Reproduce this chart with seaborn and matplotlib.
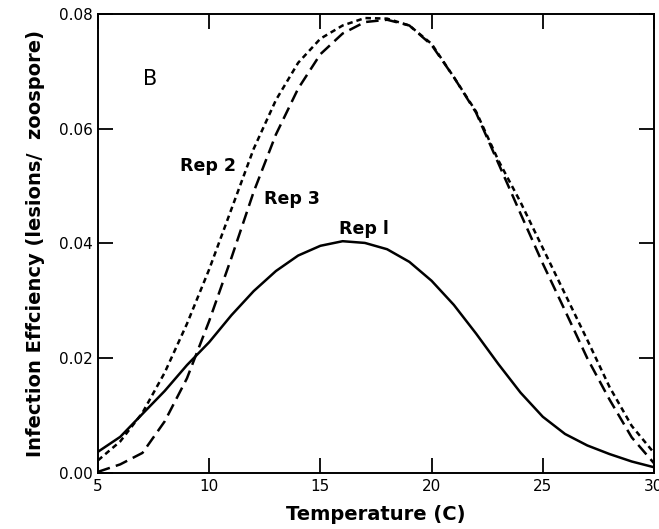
import numpy as np
import pandas as pd
import seaborn as sns
import matplotlib
matplotlib.use("Agg")
import matplotlib.pyplot as plt

# =========================
# Data
# =========================
temp = [5, 6, 7, 8, 9, 10, 11, 12, 13, 14, 15, 16, 17,
        18, 19, 20, 21, 22, 23, 24, 25, 26, 27, 28, 29, 30]

rep1 = [0.0037, 0.0063, 0.0103, 0.0143, 0.0188, 0.0228, 0.0275, 0.0317,
        0.0352, 0.0379, 0.0396, 0.0404, 0.0401, 0.0390, 0.0368, 0.0335,
        0.0293, 0.0243, 0.0190, 0.0140, 0.0098, 0.0068, 0.0048, 0.0033,
        0.0020, 0.0010]

rep2 = [0.0022, 0.0055, 0.0105, 0.0175, 0.0260, 0.0355, 0.0460, 0.0565,
        0.0650, 0.0715, 0.0757, 0.0780, 0.0793, 0.0792, 0.0780, 0.0748,
        0.0690, 0.0630, 0.0545, 0.0472, 0.0392, 0.0312, 0.0232, 0.0150,
        0.0082, 0.0035]

rep3 = [0.0002, 0.0015, 0.0035, 0.0090, 0.0165, 0.0265, 0.0375, 0.0490,
        0.0590, 0.0670, 0.0730, 0.0766, 0.0786, 0.0790, 0.0780, 0.0746,
        0.0690, 0.0628, 0.0540, 0.0452, 0.0365, 0.0283, 0.0200, 0.0128,
        0.0062, 0.0017]

x_ticks = [5, 10, 15, 20, 25, 30]
y_ticks = [0.00, 0.02, 0.04, 0.06, 0.08]

df = pd.DataFrame({
    "Temperature": temp * 3,
    "Efficiency": rep1 + rep2 + rep3,
    "Rep": ["Rep1"] * len(temp) + ["Rep2"] * len(temp) + ["Rep3"] * len(temp),
})

# =========================
# Plot
# =========================
sns.set_style("ticks")
plt.rcParams["font.family"] = ["DejaVu Sans"]
plt.rcParams["text.color"] = "black"
plt.rcParams["axes.labelcolor"] = "black"

fig = plt.figure(figsize=(6.59, 5.29), dpi=100)
ax = fig.add_axes([0.1487, 0.1059, 0.8437, 0.8676])

sns.lineplot(
    data=df, x="Temperature", y="Efficiency",
    style="Rep", color="black", linewidth=1.8,
    dashes={"Rep1": "", "Rep2": (2.2, 1.6), "Rep3": (5, 2.5)},
    legend=False, ax=ax,
)

ax.set_xlim(5, 30)
ax.set_ylim(0, 0.08)
ax.set_xticks(x_ticks)
ax.set_xticklabels([str(t) for t in x_ticks])
ax.set_yticks(y_ticks)
ax.set_yticklabels([f"{t:.2f}" for t in y_ticks])

ax.tick_params(direction="in", length=11, width=1.3, top=True, right=True,
               labelsize=11, colors="black", pad=4)
for sp in ax.spines.values():
    sp.set_linewidth(1.4)
    sp.set_color("black")

ax.set_xlabel("Temperature (C)", fontsize=14, fontweight="bold", labelpad=8)
ax.set_ylabel("Infection Effciency (lesions/  zoospore)", fontsize=14,
              fontweight="bold", labelpad=10)

ax.text(7.34, 0.0686, "B", fontsize=15, ha="center", va="center")
ax.text(9.95, 0.0535, "Rep 2", fontsize=12.5, fontweight="bold", ha="center", va="center")
ax.text(13.74, 0.0477, "Rep 3", fontsize=12.5, fontweight="bold", ha="center", va="center")
ax.text(16.98, 0.0425, "Rep l", fontsize=12.5, fontweight="bold", ha="center", va="center")

plt.savefig("out.png", dpi=100)
